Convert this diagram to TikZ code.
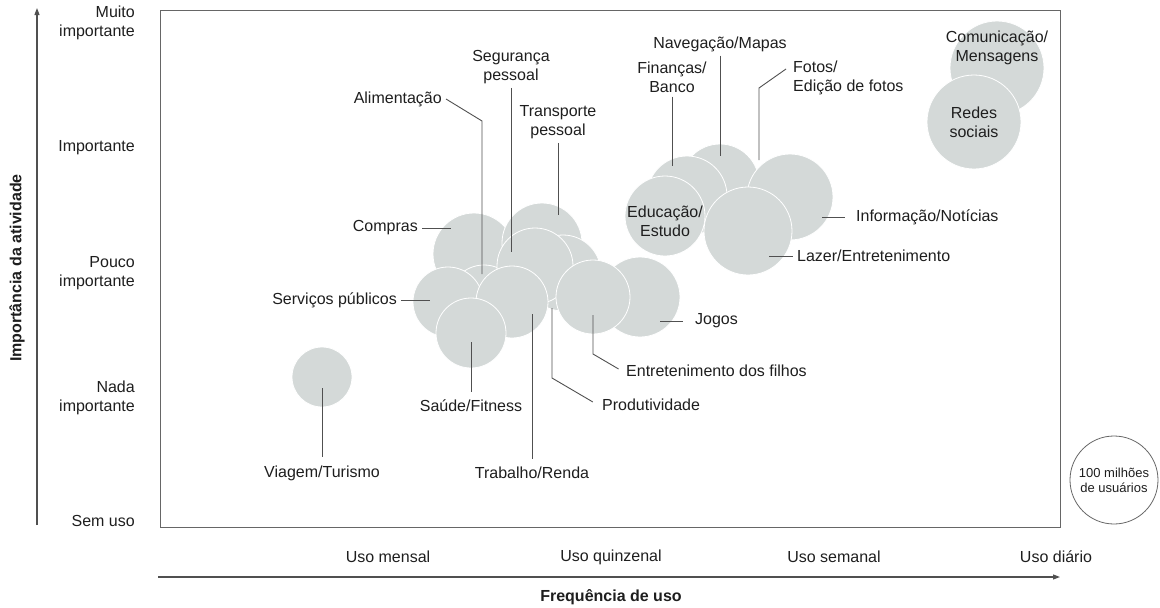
\documentclass[tikz,border=0pt]{standalone}
\usepackage{fontspec}
\setmainfont{Liberation Sans}
\usepackage{xcolor}
\usetikzlibrary{positioning,calc,arrows.meta}
\definecolor{bubgray}{HTML}{D4D9D8}
\definecolor{leadgray}{HTML}{505050}
\definecolor{framegray}{HTML}{666666}
\definecolor{txtgray}{HTML}{1E1E1E}

\begin{document}
\begin{tikzpicture}[x=1pt, y=-1pt,
    bub/.style={circle, fill=bubgray, draw=white, line width=0.8pt, minimum size=#1, inner sep=0pt},
    lbl/.style={text=txtgray, font=\fontsize{16}{19}\selectfont, inner sep=4pt, align=center},
    lead/.style={draw=leadgray, line width=0.9pt},
    axisline/.style={draw=leadgray, line width=1.1pt, -{Triangle[length=7pt, width=5pt]}}]
    \useasboundingbox (0, 0) rectangle (1160, 608);

    % Frame and axes
    \draw [framegray, line width=1pt] (160, 10) rectangle (1060, 527);
    \coordinate (yfrom) at (37, 525);
    \coordinate (yto) at (37, 8);
    \coordinate (xfrom) at (158, 577);
    \coordinate (xto) at (1060, 577);
    \draw [axisline] (yfrom) -- (yto);
    \draw [axisline] (xfrom) -- (xto);

    % Importance levels
    \node [lbl, anchor=east, align=right] (muito) at (139, 23) {Muito\\importante};
    \node [lbl, anchor=east, align=right] (importante) at (139, 148) {Importante};
    \node [lbl, anchor=east, align=right] (pouco) at (139, 273) {Pouco\\importante};
    \node [lbl, anchor=east, align=right] (nada) at (139, 398) {Nada\\importante};
    \node [lbl, anchor=east, align=right] (semuso) at (139, 521) {Sem uso};
    \node [lbl, font=\fontsize{16}{19}\selectfont\bfseries, rotate=90] (ytitle) at (17, 268) {Importância da atividade};

    % Frequency levels
    \node [lbl] (mensal) at (388, 557) {Uso mensal};
    \node [lbl] (quinzenal) at (611, 557) {Uso quinzenal};
    \node [lbl] (semanal) at (834, 557) {Uso semanal};
    \node [lbl] (diario) at (1056, 557) {Uso diário};
    \node [lbl, font=\fontsize{16}{19}\selectfont\bfseries] (xtitle) at (611, 597) {Frequência de uso};

    % Bubbles, back to front
    \node [bub=60] (viagem) at (322, 377) {};
    \node [bub=82] (compras) at (474, 254) {};
    \node [bub=80] (transporte) at (542, 243) {};
    \node [bub=76] (produtiv) at (563, 273) {};
    \node [bub=70] (alimentacao) at (484, 300) {};
    \node [bub=76] (seguranca) at (535, 266) {};
    \node [bub=70] (servicos) at (448, 302) {};
    \node [bub=72] (trabalho) at (512, 302) {};
    \node [bub=70] (saude) at (471, 333) {};
    \node [bub=80] (jogos) at (640, 297) {};
    \node [bub=74] (filhos) at (593, 297) {};
    \node [bub=78] (navegacao) at (720, 183) {};
    \node [bub=80] (financas) at (687, 196) {};
    \node [bub=80] (educacao) at (665, 216) {};
    \node [bub=86] (informacao) at (790, 197) {};
    \node [bub=88] (lazer) at (748, 231) {};
    \node [bub=94] (comunicacao) at (997, 68) {};
    \node [bub=94] (redes) at (974, 122) {};

    % Left cluster labels
    \node [lbl] (viagem-l) at (322, 473) {Viagem/Turismo};
    \node [lbl, anchor=east] (compras-l) at (422, 228) {Compras};
    \node [lbl, anchor=east] (alim-l) at (446, 99) {Alimentação};
    \node [lbl] (seg-l) at (511, 67) {Segurança\\pessoal};
    \node [lbl] (trans-l) at (558, 122) {Transporte\\pessoal};
    \node [lbl, anchor=east] (serv-l) at (401, 300) {Serviços públicos};
    \node [lbl] (trab-l) at (532, 473) {Trabalho/Renda};
    \node [lbl] (saude-l) at (471, 406) {Saúde/Fitness};
    \node [lbl, anchor=west] (prod-l) at (598, 405) {Produtividade};
    \node [lbl, anchor=west] (filhos-l) at (622, 371) {Entretenimento dos filhos};
    \node [lbl, anchor=west] (jogos-l) at (691, 321) {Jogos};

    % Right cluster labels
    \node [lbl] (fin-l) at (672, 77) {Finanças/\\Banco};
    \node [lbl] (nav-l) at (720, 44) {Navegação/Mapas};
    \node [lbl, anchor=west, align=left] (fotos-l) at (789, 78) {Fotos/\\Edição de fotos};
    \node [lbl] (edu-l) at (665, 221) {Educação/\\Estudo};
    \node [lbl, anchor=west] (info-l) at (852, 217) {Informação/Notícias};
    \node [lbl, anchor=west] (lazer-l) at (793, 256) {Lazer/Entretenimento};
    \node [lbl] (com-l) at (997, 48) {Comunicação/\\Mensagens};
    \node [lbl] (redes-l) at (974, 122) {Redes\\sociais};

    % Leader lines
    \draw [lead, shorten >=4pt] ($(viagem)+(0, 11)$) -- (viagem-l.north);
    \draw [lead] (compras-l.east) -- ($(compras)+(-23, -26)$);
    \draw [lead] (alim-l.east) -- ++(36, 22) -- ($(alimentacao)+(-2, -26)$);
    \draw [lead] (seg-l.south) -- ($(seguranca)+(-24, -14)$);
    \draw [lead] (trans-l.south) -- ($(transporte)+(16, -28)$);
    \draw [lead] (serv-l.east) -- ($(servicos)+(-18, -2)$);
    \draw [lead, shorten >=4pt] ($(trabalho)+(20, 12)$) -- (trab-l.north);
    \draw [lead, shorten >=4pt] ($(saude)+(0, 9)$) -- (saude-l.north);
    \draw [lead, shorten >=6pt] ($(produtiv)+(-11, 35)$) -- ++(0, 70) -- (prod-l.west);
    \draw [lead, shorten >=4pt] ($(filhos)+(0, 18)$) -- ++(0, 39) -- (filhos-l.west);
    \draw [lead, shorten >=8pt] ($(jogos)+(20, 24)$) -- (jogos-l.west);
    \draw [lead] (fin-l.south) -- ($(financas)+(-15, -30)$);
    \draw [lead] (nav-l.south) -- ($(navegacao)+(0, -27)$);
    \draw [lead] ($(navegacao)+(39, -23)$) -- ++(0, -72) -- ($(fotos-l.west)+(-3, -9)$);
    \draw [lead, shorten >=7pt] ($(informacao)+(32, 20)$) -- (info-l.west);
    \draw [lead] ($(lazer)+(21, 25)$) -- (lazer-l.west);

    % Size key
    \node [circle, draw=framegray, line width=0.8pt, minimum size=88, inner sep=0pt, align=center,
        text=txtgray, font=\fontsize{13}{15}\selectfont] (legend) at (1114, 480) {100 milhões\\de usuários};
\end{tikzpicture}
\end{document}
